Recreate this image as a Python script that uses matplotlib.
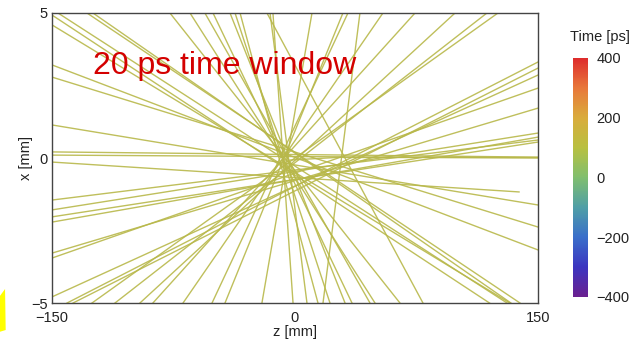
import matplotlib
matplotlib.use("Agg")
import matplotlib.pyplot as plt
from matplotlib.colors import LinearSegmentedColormap, Normalize
from matplotlib.patches import Polygon

plt.rcParams["font.family"] = ["Liberation Sans", "DejaVu Sans"]

# ── Lines of response (start / end points, z in mm, x in mm) ──────────
z_start = [-146.3, -128.4, -124.7, -77.2, -64.8, -55.6, -50.6, -40.1, -37.0,
           -33.9, -17.3, -15.4, -13.6, 10.5, 29.6, 32.7, 40.1, 54.3, 74.1,
           98.8, 118.5, 125.3,
           -150, -150, -150, -150, -150, -150, -150, -150, -150, -150, -150,
           -150, -150, -150,
           -140.7, -137.0, -150, 29.6, -3.1]
x_start = [5, 5, 5, 5, 5, 5, 5, 5, 5, 5, 5, 5, 5, 5, 5, 5, 5, 5, 5, 5, 5, 5,
           4.93, 4.59, 3.21, 2.79, 1.14, 0.21, 0.10, -1.45, -1.79, -2.03,
           -2.21, -3.28, -3.45, -4.79,
           -5, -5, -0.14, 0.03, -0.07]
z_end = [130.9, 138.9, 133.3, 64.8, 49.4, 46.3, 35.2, 30.9, 21.6, 14.2, 79.0,
         7.4, -1.2, -20.4, -43.2, -51.2, 17.3, -69.1, -87.7, -95.7, -111.1,
         -125.3,
         150, 150, 150, 150, 150, 150, 150, 150, 150, 150, 150, 150, 150, 150,
         150, 150, 138.3, 150, 29.6]
x_end = [-5, -5, -5, -5, -5, -5, -5, -5, -5, -5, -5, -5, -5, -5, -5, -5, -5,
         -5, -5, -5, -5, -5,
         -6.10, -5.59, -3.17, -2.38, -1.62, 0.03, 0.0, 0.62, 0.86, 0.55,
         0.72, 1.72, 2.41, 2.86,
         3.31, 3.10, -1.17, 0.03, 0.03]

# colour scale
time_ticks = [-400, -200, 0, 200, 400]
time_colors = ["#6a2090", "#3b35c0", "#3a6fca", "#4f9fa6", "#80bf6e",
               "#b8c040", "#d9ac3c", "#e8783a", "#de2c2c"]
line_color = "#b8b84a"

fig = plt.figure(figsize=(6.33, 3.42), dpi=100)
ax = fig.add_axes([0.0821, 0.114, 0.7678, 0.848])

for za, xa, zb, xb in zip(z_start, x_start, z_end, x_end):
    ax.plot([za, zb], [xa, xb], color=line_color, lw=1.0, alpha=0.9)

ax.set_xlim(-150, 150)
ax.set_ylim(-5, 5)
ax.set_xticks([-150, 0, 150])
ax.set_xticklabels(["\u2212150", "0", "150"])
ax.set_yticks([-5, 0, 5])
ax.set_yticklabels(["\u22125", "0", "5"])
ax.tick_params(length=0, labelsize=10.5, colors="#222222", pad=3)
ax.tick_params(axis="x", pad=6)
for s in ax.spines.values():
    s.set_color("#444444")
    s.set_linewidth(1.0)
ax.set_xlabel("z [mm]", fontsize=10.5, color="#222222", labelpad=0)
ax.set_ylabel("x [mm]", fontsize=10.5, color="#222222", labelpad=-1)

ax.text(0.084, 0.79, "20 ps time window", transform=ax.transAxes,
        fontsize=23, color="#d40000", ha="left", va="baseline")

# colour bar
cmap = LinearSegmentedColormap.from_list("time", time_colors)
cax = fig.add_axes([0.905, 0.1316, 0.0237, 0.699])
sm = plt.cm.ScalarMappable(norm=Normalize(-400, 400), cmap=cmap)
cb = fig.colorbar(sm, cax=cax, ticks=time_ticks)
cb.outline.set_visible(False)
cb.ax.set_yticklabels(["\u2212400", "\u2212200", "0", "200", "400"])
cb.ax.tick_params(length=0, labelsize=10.5, colors="#222222", pad=6)
fig.text(0.947, 0.892, "Time [ps]", fontsize=10.5, color="#222222",
         ha="center", va="center")

# yellow highlight fragment at the slide edge
fig.patches.append(Polygon([(0, 0.135), (0.008, 0.155), (0.009, 0.035), (0, 0.03)],
                           closed=True, transform=fig.transFigure,
                           facecolor="#ffff00", edgecolor="none"))

fig.savefig("out.png", dpi=100)
